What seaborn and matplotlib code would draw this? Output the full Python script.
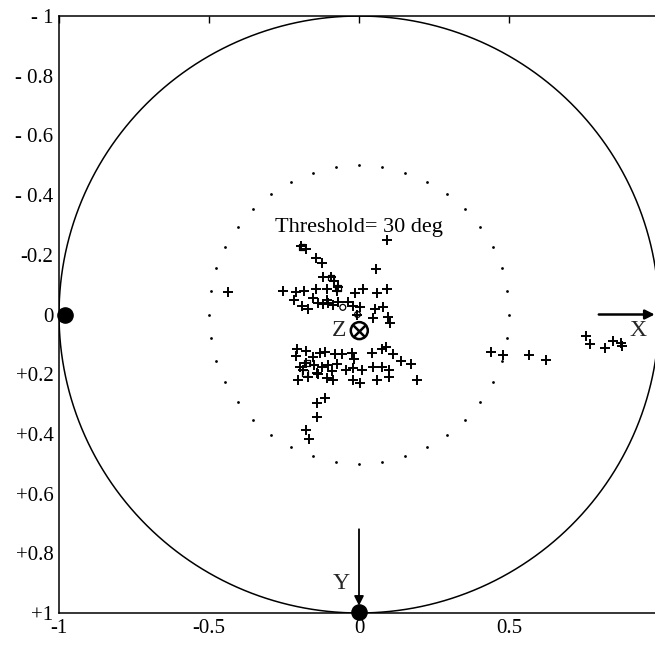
import numpy as np
import pandas as pd
import matplotlib
matplotlib.use("Agg")
import matplotlib.pyplot as plt
import seaborn as sns

# threshold cone half-angle (deg) -> radius of dotted ring
threshold_deg = 30

# "+" markers, projected positions (y axis grows downward)
plus_x = [0.094, -0.194, -0.177, -0.144, -0.124, 0.057, -0.119, -0.094, -0.083, -0.069,
          -0.438, -0.252, -0.21, -0.183, -0.143, -0.108, -0.072, -0.013, 0.012, 0.059,
          0.092, -0.217, -0.191, -0.169, -0.152, -0.136, -0.119, -0.102, -0.086, -0.069,
          -0.036, -0.019, 0.003, -0.008, 0.053, 0.081, 0.048, 0.098, 0.103, -0.108,
          -0.206, -0.177, -0.21, -0.152, -0.13, -0.113, -0.08, -0.058, -0.024, -0.017,
          0.042, 0.076, 0.09, 0.114, 0.139, 0.172, 0.194, -0.197, -0.177, -0.15,
          -0.124, -0.102, -0.074, -0.043, -0.019, 0.009, 0.046, 0.076, 0.101, -0.202,
          -0.169, -0.136, -0.108, -0.086, -0.021, 0.003, 0.059, 0.101, -0.186, -0.091,
          -0.141, -0.113, -0.141, -0.141, -0.177, -0.166,
          0.44, 0.481, 0.568, 0.623, 0.757, 0.77, 0.82, 0.848, 0.872, 0.876]
plus_y = [-0.249, -0.23, -0.218, -0.19, -0.173, -0.154, -0.124, -0.124, -0.113, -0.091,
          -0.076, -0.080, -0.076, -0.080, -0.084, -0.084, -0.080, -0.071, -0.084, -0.071,
          -0.084, -0.048, -0.028, -0.017, -0.054, -0.037, -0.035, -0.037, -0.032, -0.043,
          -0.043, -0.028, -0.024, 0.002, -0.017, -0.024, 0.013, 0.009, 0.029, -0.048,
          0.117, 0.121, 0.139, 0.141, 0.130, 0.124, 0.132, 0.132, 0.130, 0.150,
          0.128, 0.116, 0.108, 0.132, 0.155, 0.166, 0.219, 0.175, 0.163, 0.169,
          0.175, 0.169, 0.166, 0.186, 0.180, 0.186, 0.175, 0.177, 0.186, 0.219,
          0.208, 0.199, 0.213, 0.219, 0.219, 0.228, 0.219, 0.208, 0.186, 0.188,
          0.197, 0.280, 0.297, 0.345, 0.386, 0.417,
          0.124, 0.135, 0.136, 0.152, 0.071, 0.099, 0.113, 0.089, 0.096, 0.105]

# small open squares and circles inside the clusters
square_x = [-0.19, -0.094, -0.069, -0.174, -0.18]
square_y = [-0.226, -0.124, -0.09, 0.161, 0.197]
ring_x = [-0.054, -0.005]
ring_y = [-0.024, 0.0]

# axis glyphs
z_pos = (0.001, 0.054)
x_arrow = [(0.79, 0.0), (0.995, 0.0)]
y_arrow = [(0.0, 0.71), (0.0, 0.985)]
big_dots_x = [-0.98, 0.0]
big_dots_y = [0.0, 0.995]

ytick_vals = [-1, -0.8, -0.6, -0.4, -0.2, 0, 0.2, 0.4, 0.6, 0.8, 1]
ytick_labels = ["- 1", "- 0.8", "- 0.6", "- 0.4", "-0.2", "0", "+0.2", "+0.4", "+0.6", "+0.8", "+1"]
xtick_vals = [-1, -0.5, 0, 0.5]
xtick_labels = ["-1", "-0.5", "0", "0.5"]

sns.set_style("white")
plt.rcParams["font.family"] = ["Liberation Serif", "DejaVu Serif"]

fig = plt.figure(figsize=(6.55, 6.46), dpi=100)
ax = fig.add_axes([59 / 655, 33 / 646, 600 / 655, 597 / 646])

# unit circle and threshold ring
t = np.linspace(0, 2 * np.pi, 241)
circ = pd.DataFrame({"x": np.cos(t), "y": np.sin(t)})
sns.lineplot(data=circ, x="x", y="y", sort=False, estimator=None, color="black", lw=1.1, ax=ax)

r = np.sin(np.radians(threshold_deg))
tt = np.linspace(0, 2 * np.pi, 40, endpoint=False)
ring = pd.DataFrame({"x": r * np.cos(tt), "y": r * np.sin(tt)})
sns.scatterplot(data=ring, x="x", y="y", marker="o", s=4, color="black", linewidth=0, ax=ax)

pts = pd.DataFrame({"x": plus_x, "y": plus_y})
sns.scatterplot(data=pts, x="x", y="y", marker="+", s=55, color="black", linewidth=1.4, ax=ax)

ax.scatter(square_x, square_y, marker="s", s=18, facecolors="none", edgecolors="black", linewidths=0.9)
ax.scatter(ring_x, ring_y, marker="o", s=18, facecolors="none", edgecolors="black", linewidths=0.9)

# Z axis (into the page)
ax.scatter([z_pos[0]], [z_pos[1]], marker="o", s=150, facecolors="none", edgecolors="black", linewidths=1.8)
ax.scatter([z_pos[0]], [z_pos[1]], marker="x", s=70, color="black", linewidths=1.8)
ax.text(z_pos[0] - 0.045, z_pos[1], "Z", fontsize=17, ha="right", va="center")

# X and Y arrows
ax.annotate("", xy=x_arrow[1], xytext=x_arrow[0],
            arrowprops=dict(arrowstyle="-|>", color="black", lw=1.8, mutation_scale=14))
ax.text(0.93, 0.055, "X", fontsize=17, ha="center", va="center")
ax.annotate("", xy=y_arrow[1], xytext=y_arrow[0],
            arrowprops=dict(arrowstyle="-|>", color="black", lw=1.3, mutation_scale=14))
ax.text(-0.058, 0.9, "Y", fontsize=17, ha="center", va="center")

ax.scatter(big_dots_x, big_dots_y, s=120, color="black", zorder=5, clip_on=False)

ax.text(0.0, -0.29, "Threshold= 30 deg", fontsize=16, ha="center", va="center", color="black")

ax.set_xlim(-1, 1)
ax.set_ylim(1, -1)
ax.set_xticks(xtick_vals)
ax.set_xticklabels(xtick_labels)
ax.set_yticks(ytick_vals)
ax.set_yticklabels(ytick_labels)
ax.set_xlabel("")
ax.set_ylabel("")
ax.tick_params(direction="in", length=5, width=1, labelsize=15, colors="black",
               top=True, right=False, pad=4)
for s in ax.spines.values():
    s.set_color("black")
    s.set_linewidth(1.1)

fig.savefig("out.png", dpi=100)
